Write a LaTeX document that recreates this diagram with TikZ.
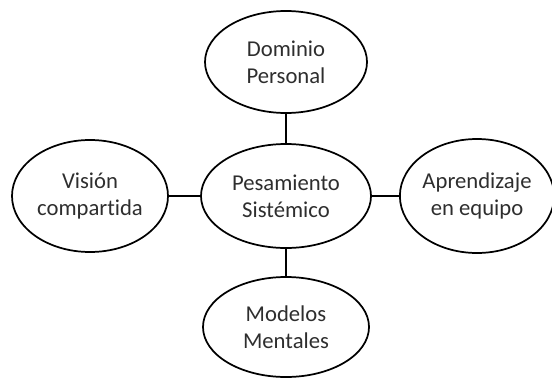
\documentclass[tikz,border=0pt]{standalone}
\usepackage{fontspec}
\setmainfont{Carlito}[Ligatures=NoCommon]
\usetikzlibrary{shapes.geometric}
\begin{document}
\begin{tikzpicture}[x=0.75pt,y=-0.75pt,
  oval/.style={ellipse,draw=black,line width=1.3pt,inner sep=0pt,align=center,
    text=black!82,font=\fontsize{17}{20}\selectfont},
  size/.style 2 args={minimum width=#1*0.75pt,minimum height=#2*0.75pt},
  link/.style={draw=black,line width=1.3pt}]
\useasboundingbox (0,0) rectangle (552,378);
\node[oval,size={162}{102}] (dom) at (286,62) {Dominio\\Personal};
\node[oval,size={170}{104}] (pen) at (286,196) {Pesamiento\\Sistémico};
\node[oval,size={156}{112}] (vis) at (90,196) {Visión\\compartida};
\node[oval,size={148}{114}] (apr) at (477,196) {Aprendizaje\\en equipo};
\node[oval,size={166}{100}] (mod) at (286,327) {Modelos\\Mentales};
\draw[link] (dom.south) -- (pen.north);
\draw[link] (vis.east) -- (pen.west);
\draw[link] (pen.east) -- (apr.west);
\draw[link] (pen.south) -- (mod.north);
\end{tikzpicture}
\end{document}
